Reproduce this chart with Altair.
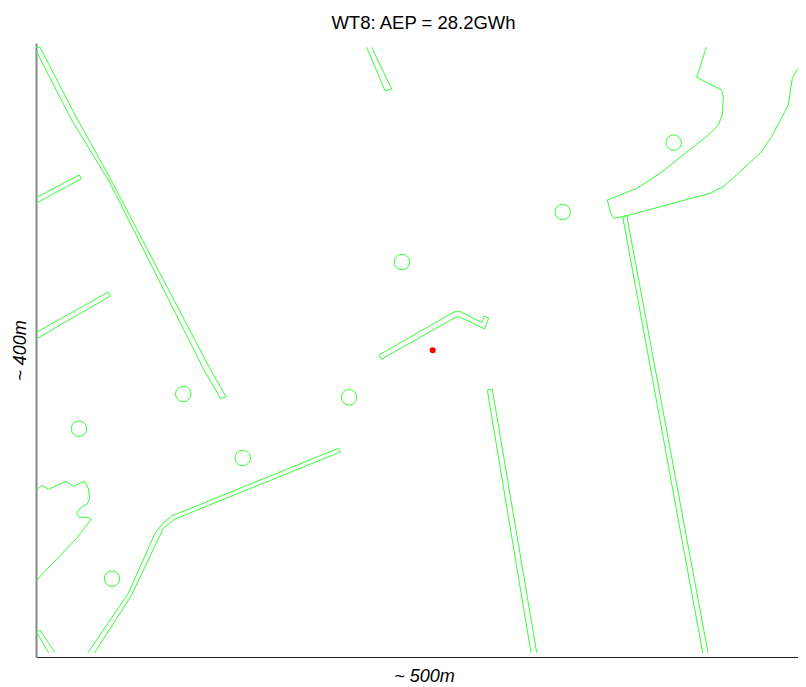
import altair as alt
import pandas as pd

TITLE = "WT8: AEP = 28.2GWh"
X_LABEL = "~ 500m"
Y_LABEL = "~ 400m"

road_a_x = [36, 71.7, 110, 204, 220.7, 226, 210.7, 110, 76.7, 40, 36]
road_a_y = [50.7, 120, 183, 370, 398.7, 396.7, 370, 178, 118, 47.3, 47.3]
branch1_x = [36, 79.3, 81.3, 36]
branch1_y = [197.7, 175, 178.7, 203.3]
branch2_x = [36, 108.3, 110.3, 36]
branch2_y = [332.7, 292, 296, 339]
blob_x = [36, 41.7, 48.3, 66, 73.3, 84.3, 88.3, 89.7, 87.3, 81.7, 76.7, 79.3, 86.7, 91.3, 76.7, 36]
blob_y = [490, 485.3, 489.3, 481.3, 486.3, 481.3, 488.3, 498.3, 504, 506.7, 512.7, 517.3, 517.3, 519, 538.3, 580.7]
corner_x = [48.7, 36.7, 40, 55]
corner_y = [652.7, 632.7, 630, 652.7]
curve_x = [88, 128.3, 155, 163.3, 171.7, 338.3, 340.3, 175, 163.3, 131.7, 94.7]
curve_y = [652.7, 593.3, 533.3, 522.7, 516, 448.3, 452, 519, 528.3, 595, 652.7]
top_x = [366.7, 385, 391.7, 371.7]
top_y = [47.3, 90.7, 89.3, 47.3]
middle_x = [379, 451.7, 455, 460.7, 481.7, 484, 488.7, 484.7, 460.7, 456.7, 381.3, 379]
middle_y = [355, 313.3, 311.7, 311.7, 322.7, 316, 318, 329, 317.3, 316.7, 359.3, 355]
road_b_x = [531, 487.3, 492.3, 536.7]
road_b_y = [652.7, 390, 389.3, 652.7]
road_c_x = [702.7, 622.7, 626.7, 708]
road_c_y = [652.7, 216.7, 215.3, 652.7]
apron_x = [706.3, 696.7, 721.7, 723.3, 722.3, 718.3, 708.3, 660, 636.7, 607.3, 610.7, 614, 623.3, 710, 723.3, 740, 760, 771.7, 788.3, 792.3, 796.7, 806]
apron_y = [47.3, 77.3, 90, 96.7, 115, 125, 135, 173.3, 188.3, 200, 213.3, 218.3, 216.7, 193.3, 186.7, 171.7, 153.3, 136.7, 105, 78.3, 70, 62.3]
circle_x = [183.3, 79, 349, 242.7, 112, 562.7, 402, 673.7]
circle_y = [394, 428.7, 397.3, 458, 578.7, 212, 262, 142.7]
turbine_x = [432.7]
turbine_y = [350.3]

shapes = [
    ("road_a", road_a_x, road_a_y), ("branch1", branch1_x, branch1_y),
    ("branch2", branch2_x, branch2_y), ("blob", blob_x, blob_y),
    ("corner", corner_x, corner_y), ("curve", curve_x, curve_y),
    ("top", top_x, top_y), ("middle", middle_x, middle_y),
    ("road_b", road_b_x, road_b_y), ("road_c", road_c_x, road_c_y),
    ("apron", apron_x, apron_y),
]
rows = []
for name, xs, ys in shapes:
    for i, (a, b) in enumerate(zip(xs, ys)):
        rows.append({"shape": name, "i": i, "x": a, "y": b})
lines_df = pd.DataFrame(rows)
circles_df = pd.DataFrame({"x": circle_x, "y": circle_y})
turbine_df = pd.DataFrame({"x": turbine_x, "y": turbine_y})

FONT = "Liberation Sans"
x_enc = alt.X("x:Q", scale=alt.Scale(domain=[36, 798], nice=False, zero=False),
              axis=alt.Axis(title=X_LABEL, ticks=False, labels=False, grid=False,
                            domainColor="#222222", domainWidth=1,
                            titleFont=FONT, titleFontSize=18, titleFontStyle="italic",
                            titleFontWeight="normal", titleColor="#000000",
                            titleX=388, titleY=24, titleAlign="center", titleBaseline="alphabetic"))
y_enc = alt.Y("y:Q", scale=alt.Scale(domain=[657, 43], nice=False, zero=False),
              axis=alt.Axis(title=Y_LABEL, ticks=False, labels=False, grid=False,
                            domainColor="#888888", domainWidth=2,
                            titleFont=FONT, titleFontSize=18, titleFontStyle="italic",
                            titleFontWeight="normal", titleColor="#000000",
                            titleX=-11, titleY=307, titleAlign="center", titleBaseline="alphabetic"))

lines = alt.Chart(lines_df).mark_line(color="#33ff33", strokeWidth=1).encode(
    x=x_enc, y=y_enc, detail="shape:N", order="i:Q")
circles = alt.Chart(circles_df).mark_point(shape="circle", size=240, filled=False,
                                           color="#33ff33", strokeWidth=1, opacity=1).encode(x="x:Q", y="y:Q")
turbine = alt.Chart(turbine_df).mark_point(shape="circle", size=36, filled=True,
                                           color="#ff0000", opacity=1).encode(x="x:Q", y="y:Q")

chart = (lines + circles + turbine).properties(
    width=762, height=614,
    padding={"left": 28, "top": 35, "right": 0, "bottom": 28},
    autosize=alt.AutoSizeParams(type="none"),
    title=alt.TitleParams(TITLE, font=FONT, fontSize=18.5, fontWeight="normal", color="#000000",
                          offset=11, dx=6.5),
).configure_view(stroke=None)

chart.save("out.html", embed_options={"renderer": "svg", "actions": False})
